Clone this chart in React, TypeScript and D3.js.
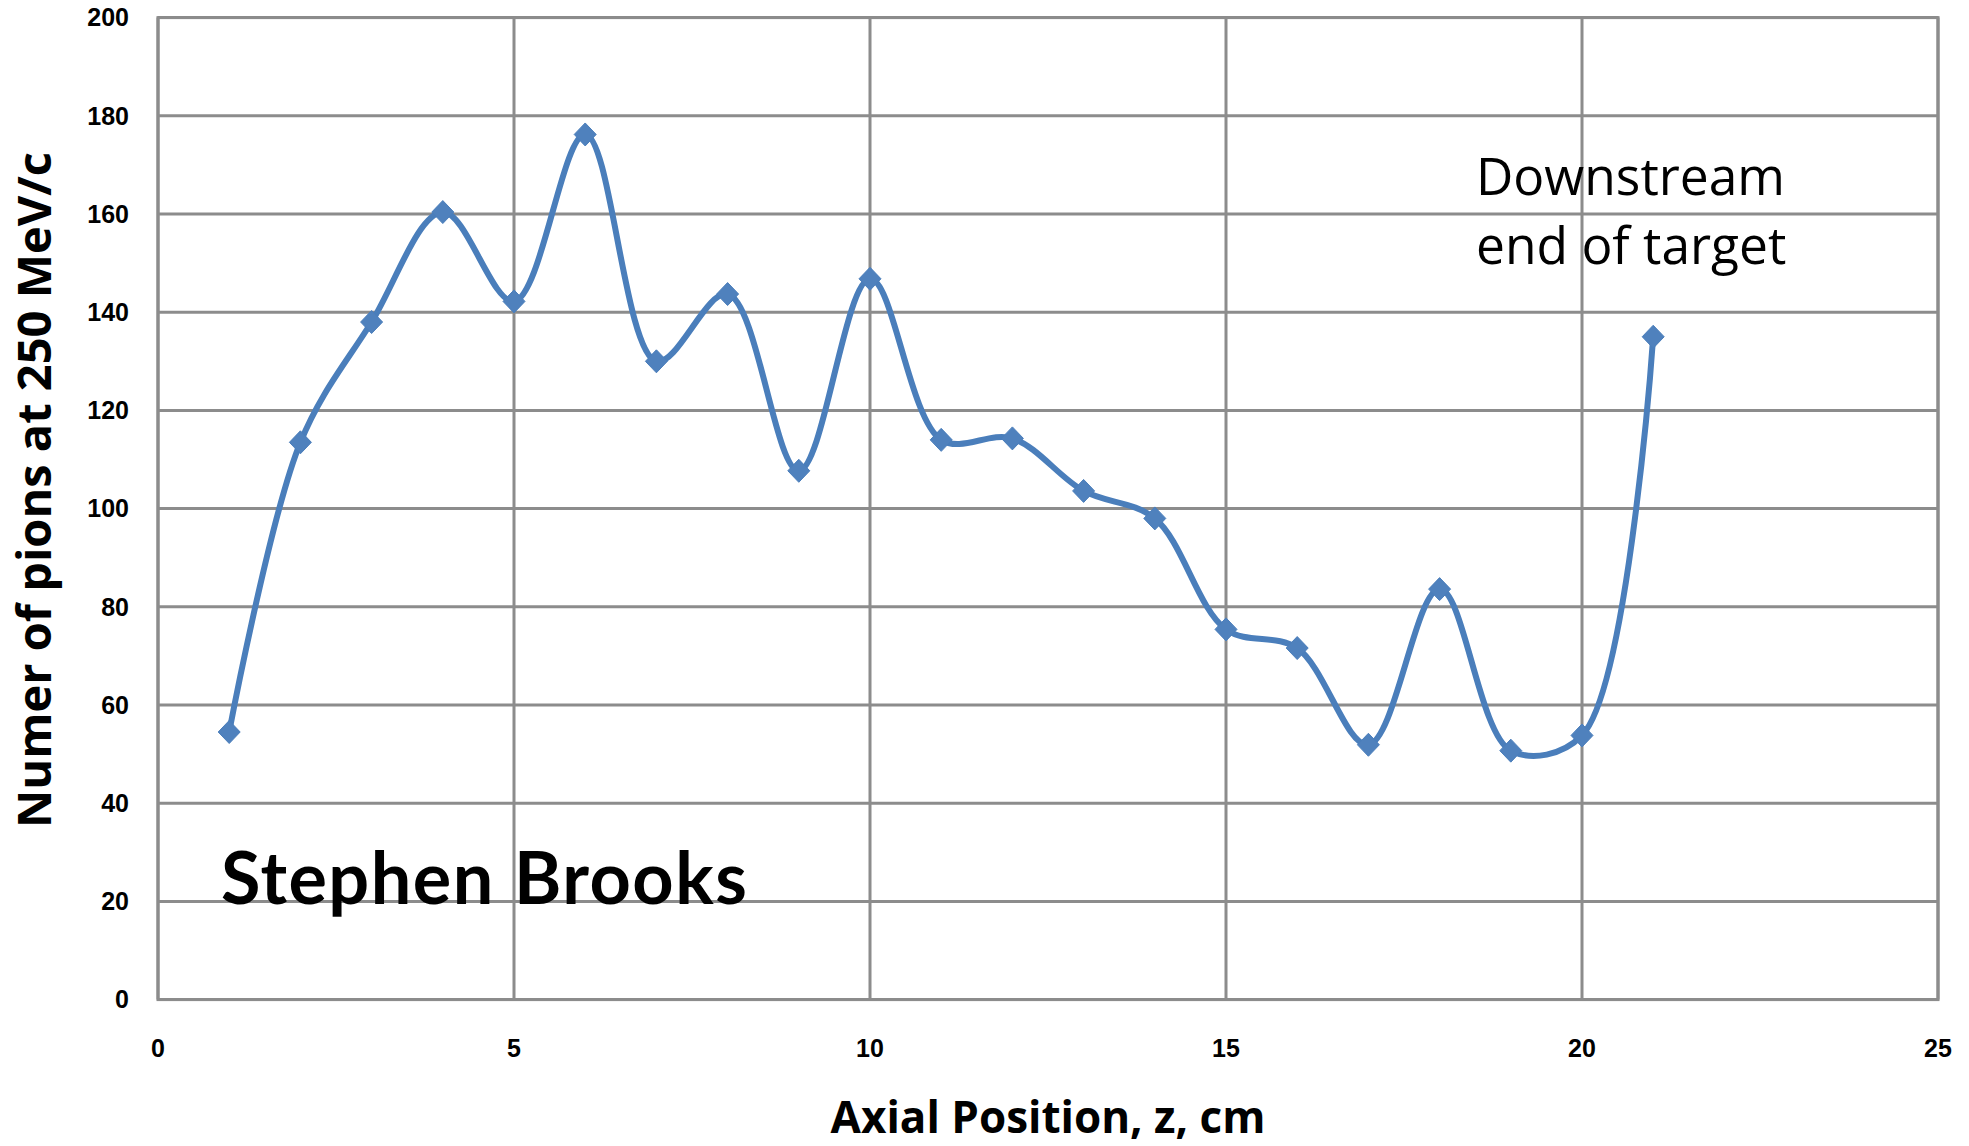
import React from "react";
import * as d3 from "d3";

const zPositions = [1, 2, 3, 4, 5, 6, 7, 8, 9, 10, 11, 12, 13, 14, 15, 16, 17, 18, 19, 20, 21];
const pionCounts = [54.5, 113.5, 138, 160.4, 142.2, 176.2, 130, 143.7, 107.7, 146.8, 114, 114.3, 103.6, 98, 75.4, 71.6, 51.9, 83.6, 50.7, 53.8, 135];
const xTicks = [0, 5, 10, 15, 20, 25];
const yTicks = [0, 20, 40, 60, 80, 100, 120, 140, 160, 180, 200];

const W = 1969;
const H = 1146;
const M = { left: 158, right: 1938, top: 17.6, bottom: 999.6 };

export default function App() {
  const x = d3.scaleLinear().domain([0, 25]).range([M.left, M.right]);
  const y = d3.scaleLinear().domain([0, 200]).range([M.bottom, M.top]);
  const pts: [number, number][] = zPositions.map((z, i) => [x(z), y(pionCounts[i])]);
  const line = d3.line().curve(d3.curveCatmullRom.alpha(0.5))(pts) || "";
  const grid = "#8c8c8c";
  const blue = "#4a7ebb";
  const tickFont = "'Liberation Sans', Arial, sans-serif";
  const titleFont = "'Open Sans', 'Noto Sans', sans-serif";
  return (
    <svg width={W} height={H} style={{ position: "absolute", left: 0, top: 0, background: "#fff" }}>
      <rect x={0} y={0} width={W} height={H} fill="#fff" />
      {yTicks.map((t) => (
        <line key={"gy" + t} x1={M.left} x2={M.right} y1={y(t)} y2={y(t)} stroke={grid} strokeWidth={3} />
      ))}
      {xTicks.map((t) => (
        <line key={"gx" + t} x1={x(t)} x2={x(t)} y1={M.top} y2={M.bottom} stroke={grid} strokeWidth={3} />
      ))}
      <rect x={M.left} y={M.top} width={M.right - M.left} height={M.bottom - M.top} fill="none" stroke={grid} strokeWidth={3} />
      {yTicks.map((t) => (
        <text key={"ty" + t} x={129} y={y(t)} dy="0.35em" textAnchor="end" fontFamily={tickFont} fontWeight="bold" fontSize={25} fill="#000">
          {t}
        </text>
      ))}
      {xTicks.map((t) => (
        <text key={"tx" + t} x={x(t)} y={1048} dy="0.35em" textAnchor="middle" fontFamily={tickFont} fontWeight="bold" fontSize={25} fill="#000">
          {t}
        </text>
      ))}
      <text x={1048} y={1133} textAnchor="middle" fontFamily={titleFont} fontWeight="bold" fontSize={44} fill="#000">
        Axial Position, z, cm
      </text>
      <text transform={`translate(35,490) rotate(-90)`} dy="0.35em" textAnchor="middle" fontFamily={titleFont} fontWeight="bold" fontSize={47} fill="#000">
        Numer of pions at 250 MeV/c
      </text>
      <text x={221} y={904} fontFamily="'Comic Sans MS', 'Lato', sans-serif" fontWeight="bold" fontSize={72} letterSpacing={1.5} fill="#000">
        Stephen Brooks
      </text>
      <text x={1476} y={177} dy="0.35em" fontFamily={titleFont} fontSize={51.5} fill="#000">
        Downstream
      </text>
      <text x={1476} y={246} dy="0.35em" fontFamily={titleFont} fontSize={51.5} fill="#000">
        end of target
      </text>
      <path d={line} fill="none" stroke={blue} strokeWidth={6} />
      {pts.map(([px, py], i) => (
        <path key={"m" + i} d={`M${px},${py - 11.5}L${px + 11},${py}L${px},${py + 11.5}L${px - 11},${py}Z`} fill="#4f81bd" stroke={blue} strokeWidth={1} />
      ))}
    </svg>
  );
}
